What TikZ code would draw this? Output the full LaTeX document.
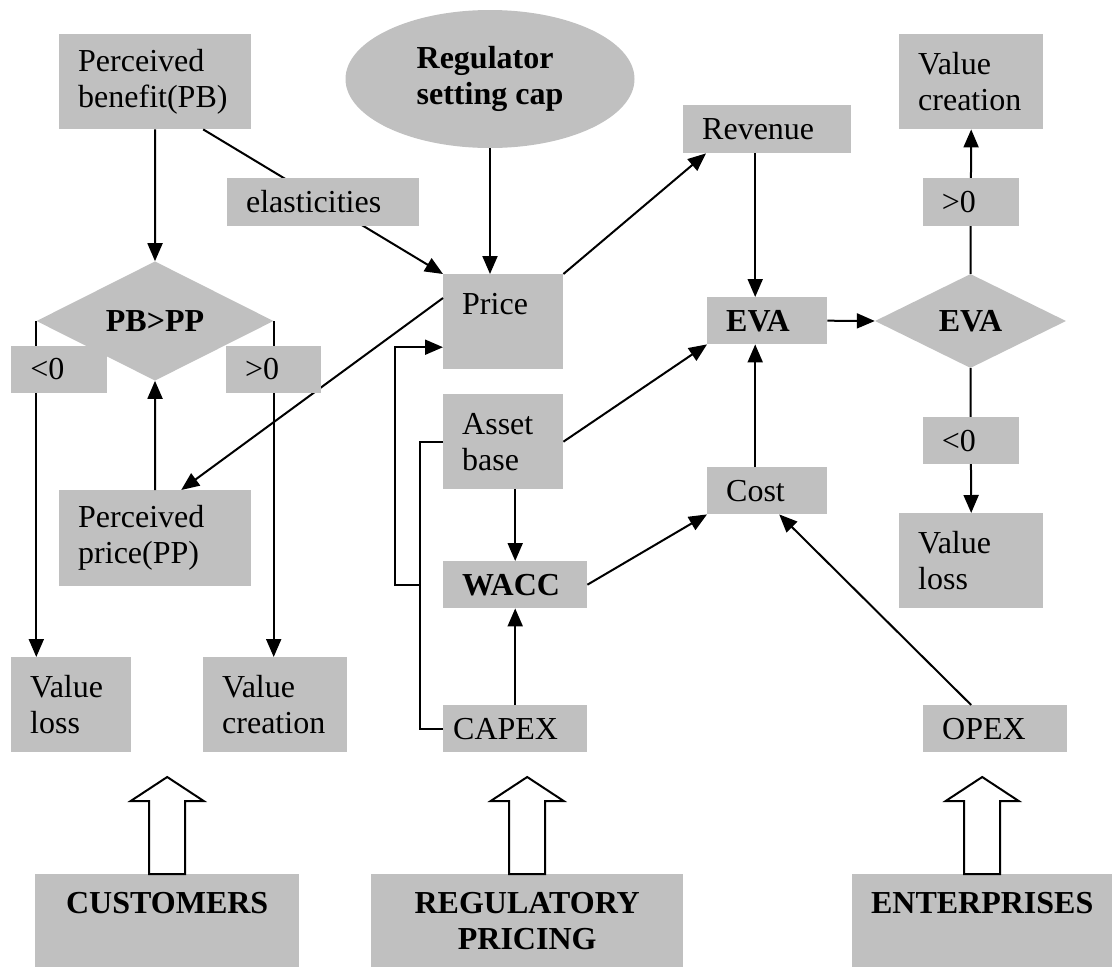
\documentclass[tikz,border=0pt]{standalone}
\usepackage{fontspec}
\setmainfont{Liberation Serif}
\usepackage{tikz}
\usetikzlibrary{arrows.meta,positioning,calc,shapes.geometric}
\definecolor{boxGray}{RGB}{192,192,192}
\newcommand{\boxfont}{\fontsize{32}{36}\selectfont}
\tikzset{
  gbox/.style={fill=boxGray, anchor=north west, align=left, inner xsep=19pt, inner ysep=0pt, font=\boxfont},
  boldbox/.style={gbox, font=\boxfont\bfseries},
  basebox/.style={gbox, align=center, minimum height=94pt, font=\boxfont\bfseries},
  gdiam/.style={diamond, fill=boxGray, inner sep=0pt, font=\boxfont\bfseries},
  conn/.style={line width=2pt},
  arr/.style={conn, -{Triangle[length=18pt,width=15pt]}},
  hollow/.style={draw, fill=white, line width=2pt, line join=miter},
}
% hollow arrow standing on top of a base box
\newcommand{\liftarrow}[1]{%
  \draw[hollow] ($(#1.north)+(-18,0)$) -- ++(0,-73) -- ++(-18.5,0)
    -- ($(#1.north)+(0,-97)$) -- ($(#1.north)+(36.5,-73)$) -- ++(-18.5,0)
    -- ($(#1.north)+(18,0)$) -- cycle;}

\begin{document}
\begin{tikzpicture}[x=1pt, y=-1pt]
\useasboundingbox (0,0) rectangle (1112,967);

% customers
\node[gbox, text width=154pt, minimum height=95pt] (pb) at (59,34) {Perceived\\benefit(PB)};
\node[gdiam, minimum width=237pt, minimum height=94pt] (pbpp) at (155,321) {PB>PP};
\node[gbox, text width=154pt, minimum height=96pt] (pp) at (59,490) {Perceived\\price(PP)};
\node[gbox, text width=82pt, minimum height=95pt] (vll) at (11,657) {Value\\loss};
\node[gbox, text width=106pt, minimum height=95pt] (vcl) at (203,657) {Value\\creation};

% regulatory pricing
\node[ellipse, fill=boxGray, minimum width=289pt, minimum height=138pt, inner sep=0pt, align=left, font=\boxfont\bfseries] (cap) at (490,79) {Regulator\\setting cap};
\node[gbox, text width=82pt, minimum height=95pt] (price) at (443,274) {Price\\\mbox{}};
\node[gbox, text width=82pt, minimum height=95pt] (asset) at (443,394) {Asset\\base};
\node[boldbox, text width=106pt, minimum height=47pt] (wacc) at (443,561) {WACC};
\node[gbox, inner xsep=10pt, text width=124pt, minimum height=47pt] (capex) at (443,705) {CAPEX};

% enterprises
\node[gbox, text width=130pt, minimum height=48pt] (revenue) at (683,105) {Revenue};
\node[boldbox, text width=82pt, minimum height=47pt] (eva) at (707,297) {EVA};
\node[gbox, text width=82pt, minimum height=47pt] (cost) at (707,467) {Cost};
\node[gdiam, minimum width=191pt, minimum height=94pt] (evad) at (970.5,321) {EVA};
\node[gbox, text width=106pt, minimum height=95pt] (vcr) at (899,34) {Value\\creation};
\node[gbox, text width=106pt, minimum height=95pt] (vlr) at (899,513) {Value\\loss};
\node[gbox, text width=106pt, minimum height=47pt] (opex) at (923,705) {OPEX};

% base boxes
\node[basebox, text width=226pt] (cust) at (35,874) {CUSTOMERS\\\mbox{}};
\node[basebox, text width=274pt] (reg) at (371,874) {REGULATORY\\PRICING};
\node[basebox, inner xsep=10pt, text width=240pt] (ent) at (852,874) {ENTERPRISES\\\mbox{}};

% connectors
\draw[arr] (pb.south) -- (pbpp.north);
\draw[arr] ([xshift=48pt]pb.south) -- node[gbox, anchor=center, text width=154pt, minimum height=48pt] (elast) {elasticities} (price.north west);
\draw[arr] (cap.south) -- (cap.south |- price.north);
\draw[arr] ($(price.north west)+(0,24)$) -- ([xshift=26pt]pp.north);
\draw[arr] (pp.north) -- (pbpp.south);
\draw[arr] (pbpp.west) -- node[pos=0.144, xshift=23pt, gbox, anchor=center, text width=58pt, minimum height=47pt] (lt0) {<0} (pbpp.west |- vll.north);
\draw[arr] (pbpp.east) -- node[pos=0.144, gbox, anchor=center, text width=57pt, minimum height=47pt] (gt0) {>0} (pbpp.east |- vcl.north);

\coordinate (jn) at (420,585);
\draw[conn] (asset.west) -| (jn) |- (capex.west);
\draw[arr] (jn) -- ++(-25,0) |- ($(price.west)+(0,25.5)$);
\draw[arr] (wacc.north |- asset.south) -- (wacc.north);
\draw[arr] (capex.north) -- (wacc.south);

\draw[arr] (price.north east) -- ([xshift=23pt]revenue.south west);
\draw[arr] ([xshift=-12pt]revenue.south) -- ([xshift=-12pt]revenue.south |- eva.north);
\draw[arr] (asset.east) -- (eva.south west);
\draw[arr] ([xshift=-12pt]cost.north) -- ([xshift=-12pt]eva.south);
\draw[arr] (wacc.east) -- (cost.south west);
\draw[arr] ([xshift=-24pt]opex.north) -- ([xshift=12pt]cost.south);
\draw[arr] (eva.east) -- (evad.west);
\draw[arr] (evad.north) -- node[gbox, anchor=center, text width=58pt, minimum height=48pt] (gt0r) {>0} (vcr.south);
\draw[arr] (evad.south) -- node[gbox, anchor=center, text width=58pt, minimum height=47pt] (lt0r) {<0} (vlr.north);

\liftarrow{cust}
\liftarrow{reg}
\liftarrow{ent}
\end{tikzpicture}
\end{document}
